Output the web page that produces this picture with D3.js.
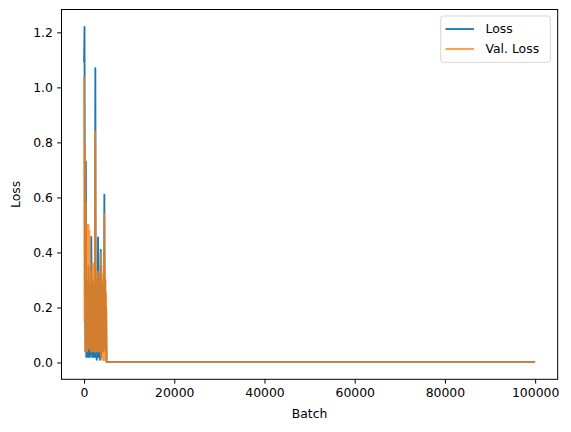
<!DOCTYPE html>
<html>
<head>
<meta charset="utf-8">
<script src="https://cdn.jsdelivr.net/npm/d3@7"></script>
<style>
  html, body { margin: 0; padding: 0; background: #fff; }
  svg { display: block; font-family: "DejaVu Sans", sans-serif; }
</style>
</head>
<body>
<svg id="chart" width="571" height="432"></svg>
<script>
// ---- data ----
const batchStep = 100; // batches between recorded points in the early phase
const lossEarly = [1.09, 1.22, 0.30, 0.04, 0.73, 0.02, 0.30, 0.03, 0.25, 0.02,
                   0.35, 0.03, 0.28, 0.02, 0.25, 0.03, 0.456, 0.22, 0.02, 0.30,
                   0.03, 0.28, 0.02, 0.25, 0.03, 1.07, 0.02, 0.30, 0.01, 0.28,
                   0.02, 0.455, 0.24, 0.02, 0.30, 0.01, 0.25, 0.41, 0.02, 0.30,
                   0.05, 0.28, 0.04, 0.25, 0.05, 0.61, 0.05, 0.30, 0.04, 0.20,
                   0.002];
const valEarly = [1.04, 0.15, 0.78, 0.04, 0.58, 0.05, 0.35, 0.04, 0.50, 0.05,
                  0.50, 0.06, 0.48, 0.05, 0.30, 0.04, 0.33, 0.05, 0.36, 0.04,
                  0.36, 0.05, 0.30, 0.04, 0.28, 0.84, 0.04, 0.32, 0.05, 0.30,
                  0.04, 0.33, 0.05, 0.30, 0.04, 0.28, 0.05, 0.40, 0.02, 0.30,
                  0.01, 0.32, 0.01, 0.35, 0.01, 0.54, 0.01, 0.30, 0.005, 0.25,
                  0.002];
const tailBatches = [20000, 40000, 60000, 80000, 100000];
const lossTail = [0.002, 0.002, 0.002, 0.002, 0.002];
const valTail = [0.002, 0.002, 0.002, 0.002, 0.002];
const xTicks = [0, 20000, 40000, 60000, 80000, 100000];
const yTicks = [0.0, 0.2, 0.4, 0.6, 0.8, 1.0, 1.2];
const seriesNames = ["Loss", "Val. Loss"];

const earlyBatches = lossEarly.map((_, i) => i * batchStep);
const batches = earlyBatches.concat(tailBatches);
const loss = lossEarly.concat(lossTail);
const val = valEarly.concat(valTail);

// ---- layout ----
const svg = d3.select("#chart");
const L = 61.5, R = 557.7, T = 9.5, B = 379.3;
const fs = 12.4;

const x = d3.scaleLinear().domain([-5000, 105000]).range([L, R]);
const y = d3.scaleLinear().domain([-0.0611, 1.2831]).range([B, T]);

// lines
const clipId = "plotclip";
svg.append("clipPath").attr("id", clipId).append("rect")
  .attr("x", L).attr("y", T).attr("width", R - L).attr("height", B - T);

const line = d3.line().x(d => x(d[0])).y(d => y(d[1]));
const g = svg.append("g").attr("clip-path", `url(#${clipId})`);
g.append("path")
  .datum(batches.map((b, i) => [b, loss[i]]))
  .attr("d", line).attr("fill", "none")
  .attr("stroke", "#1f77b4").attr("stroke-width", 1.86)
  .attr("stroke-linejoin", "round").attr("stroke-linecap", "butt");
g.append("path")
  .datum(batches.map((b, i) => [b, val[i]]))
  .attr("d", line).attr("fill", "none")
  .attr("stroke", "#ff7f0e").attr("stroke-opacity", 0.8).attr("stroke-width", 1.86)
  .attr("stroke-linejoin", "round").attr("stroke-linecap", "butt");

// axes
const xAxis = d3.axisBottom(x).tickValues(xTicks).tickFormat(d3.format("d"))
  .tickSizeInner(4.3).tickSizeOuter(0).tickPadding(4.3);
const yAxis = d3.axisLeft(y).tickValues(yTicks).tickFormat(d3.format(".1f"))
  .tickSizeInner(4.3).tickSizeOuter(0).tickPadding(4.3);

const gx = svg.append("g").attr("transform", `translate(0,${B})`).call(xAxis);
const gy = svg.append("g").attr("transform", `translate(${L},0)`).call(yAxis);
[gx, gy].forEach(a => {
  a.select(".domain").remove();
  a.selectAll(".tick line").attr("stroke", "#000").attr("stroke-width", 1);
  a.selectAll(".tick text").attr("fill", "#000")
    .style("font-size", fs + "px").style("font-family", "DejaVu Sans");
});

// frame
svg.append("rect").attr("x", L).attr("y", T).attr("width", R - L).attr("height", B - T)
  .attr("fill", "none").attr("stroke", "#000").attr("stroke-width", 1);

// axis labels
svg.append("text").attr("x", (L + R) / 2).attr("y", 418)
  .attr("text-anchor", "middle").style("font-size", fs + "px").text("Batch");
svg.append("text").attr("transform", `translate(20,${(T + B) / 2}) rotate(-90)`)
  .attr("text-anchor", "middle").style("font-size", fs + "px").text("Loss");

// legend
const lg = svg.append("g");
lg.append("rect").attr("x", 440.7).attr("y", 16).attr("width", 109.6).attr("height", 46.3)
  .attr("rx", 2.5).attr("fill", "#fff").attr("fill-opacity", 0.8)
  .attr("stroke", "#d6d6d6").attr("stroke-width", 1);
const legColors = ["#1f77b4", "#ff7f0e"];
const legOp = [1, 0.8];
seriesNames.forEach((name, i) => {
  const yy = 29 + i * 20;
  lg.append("line").attr("x1", 445.5).attr("x2", 474).attr("y1", yy).attr("y2", yy)
    .attr("stroke", legColors[i]).attr("stroke-opacity", legOp[i]).attr("stroke-width", 1.86);
  lg.append("text").attr("x", 485.5).attr("y", yy).attr("dy", "0.36em")
    .style("font-size", fs + "px").text(name);
});
</script>
</body>
</html>
